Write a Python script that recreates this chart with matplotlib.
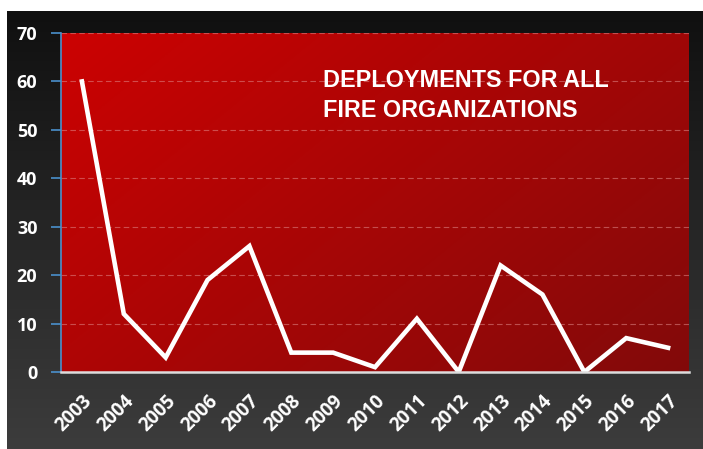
import matplotlib.pyplot as plt
import numpy as np

years = ["2003", "2004", "2005", "2006", "2007", "2008", "2009", "2010",
         "2011", "2012", "2013", "2014", "2015", "2016", "2017"]
deployments = [60, 12, 3, 19, 26, 4, 4, 1, 11, 0, 22, 16, 0, 7, 5]
y_ticks = [0, 10, 20, 30, 40, 50, 60, 70]
title = "DEPLOYMENTS FOR ALL\nFIRE ORGANIZATIONS"

W, H = 703, 449
fig = plt.figure(figsize=(W / 100, H / 100), dpi=100)
fig.patch.set_facecolor("white")

# dark panel behind everything
bg = fig.add_axes([7 / W, 0, 1 - 7 / W, (H - 11) / H])
bg.set_axis_off()
grad = np.linspace(0, 1, 256).reshape(-1, 1)
top = np.array([0x10, 0x10, 0x10]) / 255
bot = np.array([0x3c, 0x3c, 0x3c]) / 255
img = top + grad[..., None] * (bot - top)
bg.imshow(img, aspect="auto", extent=[0, 1, 0, 1], origin="upper")
bg.set_xlim(0, 1)
bg.set_ylim(0, 1)

# plot area
left, right, ptop, pbot = 61, 689, 33, 372
ax = fig.add_axes([left / W, 1 - pbot / H, (right - left) / W, (pbot - ptop) / H])
ax.set_zorder(2)

# red gradient fill
xx, yy = np.meshgrid(np.linspace(0, 1, 200), np.linspace(0, 1, 200))
t = (xx * 0.6 + yy * 0.4)
c0 = np.array([0xcc, 0x02, 0x02]) / 255
c1 = np.array([0x82, 0x0a, 0x0a]) / 255
red = c0 + t[..., None] * (c1 - c0)
ax.imshow(red, aspect="auto", extent=[-0.5, 14.5, 0, 70], origin="upper", zorder=0)

x = np.arange(len(years))
ax.plot(x, deployments, color="white", lw=3.3, solid_joinstyle="miter", zorder=3)

ax.set_xlim(-0.5, 14.5)
ax.set_ylim(0, 70)
ax.set_yticks(y_ticks)
ax.set_xticks(x)
ax.set_xticklabels(years, rotation=45, ha="right", rotation_mode="anchor")
for y in y_ticks[1:]:
    ax.axhline(y, color="#e08a8a", lw=0.8, ls=(0, (5, 3)), alpha=0.55, zorder=1)

for s in ["top", "right"]:
    ax.spines[s].set_visible(False)
ax.spines["left"].set_color("#4a90cc")
ax.spines["left"].set_linewidth(1.2)
ax.spines["bottom"].set_color("#dddddd")
ax.spines["bottom"].set_linewidth(1.8)
ax.spines["bottom"].set_zorder(4)

ax.tick_params(axis="y", colors="#4a90cc", length=7, width=1.2, direction="out", pad=10)
ax.tick_params(axis="x", length=0, pad=14)
for lab in ax.get_yticklabels():
    lab.set_color("white")
    lab.set_fontsize(13)
    lab.set_fontweight("bold")
    lab.set_family("Open Sans")
for lab in ax.get_xticklabels():
    lab.set_color("white")
    lab.set_fontsize(13.5)
    lab.set_fontweight("bold")
    lab.set_family("Open Sans")

ax.text(323 / W, 1 - 69 / H, title, transform=fig.transFigure, color="white",
        fontsize=16.8, fontweight="bold", family="Liberation Sans",
        ha="left", va="top", linespacing=1.4, zorder=5)

fig.savefig("out.png", dpi=100)
